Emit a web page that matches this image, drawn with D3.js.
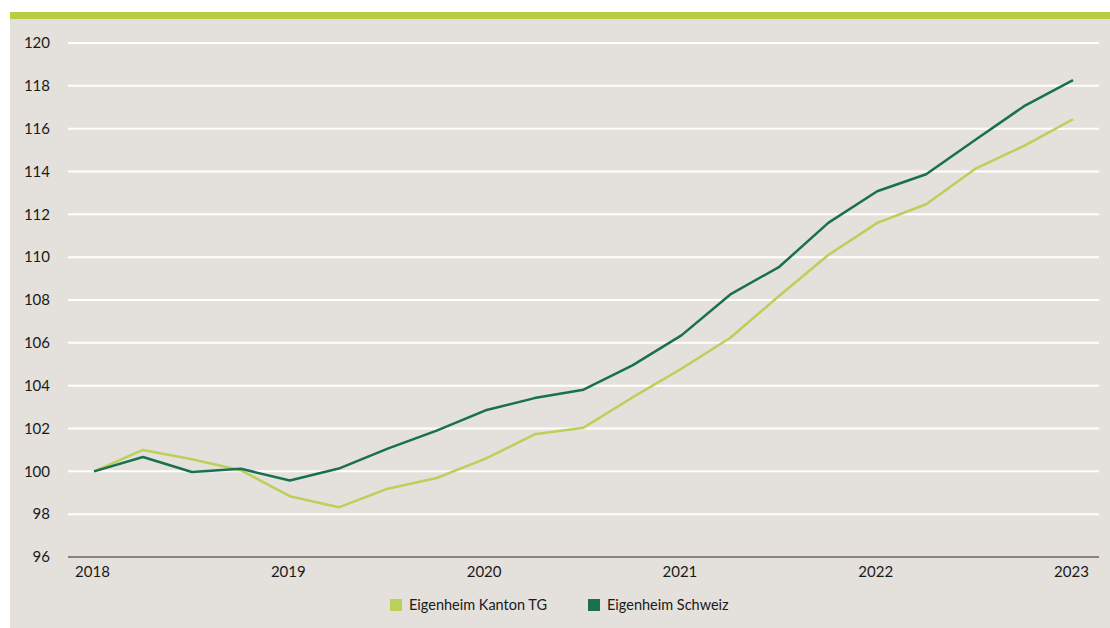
<!DOCTYPE html>
<html>
<head>
<meta charset="utf-8">
<script src="https://cdn.jsdelivr.net/npm/d3@7"></script>
<style>
  html, body { margin: 0; padding: 0; background: #fff; }
  svg { display: block; font-family: Lato, "Noto Sans", sans-serif; }
</style>
</head>
<body>
<svg id="chart" width="1110" height="628"></svg>
<script>
// quarterly index, Q1 2018 = 100
const years = ['2018', '2019', '2020', '2021', '2022', '2023']
const kantonTG = [100, 101.0, 100.56, 100.05, 98.84, 98.32, 99.19, 99.69, 100.59, 101.73, 102.04,
    103.45, 104.79, 106.24, 108.2, 110.1, 111.6, 112.47, 114.12, 115.2, 116.44]
const schweiz = [100, 100.67, 99.97, 100.12, 99.57, 100.13, 101.06, 101.9, 102.85, 103.42, 103.81,
    104.95, 106.35, 108.26, 109.55, 111.6, 113.08, 113.87, 115.47, 117.05, 118.27]
const yTicks = [96, 98, 100, 102, 104, 106, 108, 110, 112, 114, 116, 118, 120]
const seriesNames = ['Eigenheim Kanton TG', 'Eigenheim Schweiz']

const colors = ['#bad159', '#19704f']

const svg = d3.select('#chart')
const width = 1110, height = 628

// panel background + top accent bar
svg.append('rect')
    .attr('x', 10).attr('y', 12)
    .attr('width', width - 10).attr('height', height - 12)
    .attr('fill', '#e4e0dc')
svg.append('rect')
    .attr('x', 10).attr('y', 12)
    .attr('width', width - 10).attr('height', 7)
    .attr('fill', '#b8cd45')

const margin = {top: 43, left: 68, right: 11, bottom: 71}
const plotLeft = margin.left, plotRight = width - margin.right
const plotTop = margin.top, plotBottom = height - margin.bottom

const xScale = d3.scaleLinear()
    .domain([0, kantonTG.length - 1])
    .range([94, 1073])

const yScale = d3.scaleLinear()
    .domain([96, 120])
    .range([plotBottom, plotTop])

// gridlines
svg.append('g')
    .selectAll('line')
    .data(yTicks.filter(d => d > 96))
    .enter()
    .append('line')
    .attr('x1', plotLeft).attr('x2', plotRight)
    .attr('y1', d => yScale(d)).attr('y2', d => yScale(d))
    .attr('stroke', '#ffffff')
    .attr('stroke-width', 2)

// baseline
svg.append('line')
    .attr('x1', plotLeft).attr('x2', plotRight)
    .attr('y1', yScale(96)).attr('y2', yScale(96))
    .attr('stroke', '#8c8278')
    .attr('stroke-width', 2)

// y axis labels
const yAxis = svg.append('g')
    .attr('transform', 'translate(50,0)')
    .call(d3.axisLeft(yScale).tickValues(yTicks).tickSize(0).tickPadding(0))
yAxis.select('.domain').remove()
yAxis.selectAll('text')
    .attr('font-size', 15)
    .attr('fill', '#1a1a1a')
    .attr('font-family', 'Lato, "Noto Sans", sans-serif')

// x axis labels
const xAxis = svg.append('g')
    .attr('transform', `translate(-2, ${plotBottom})`)
    .call(d3.axisBottom(xScale)
        .tickValues(years.map((d, i) => i * 4))
        .tickFormat((d, i) => years[i])
        .tickSize(0).tickPadding(9))
xAxis.select('.domain').remove()
xAxis.selectAll('text')
    .attr('font-size', 15)
    .attr('fill', '#1a1a1a')
    .attr('font-family', 'Lato, "Noto Sans", sans-serif')

// lines
const line = d3.line()
    .x((d, i) => xScale(i))
    .y(d => yScale(d))

;[kantonTG, schweiz].forEach((s, k) => {
    svg.append('path')
        .datum(s)
        .attr('d', line)
        .attr('fill', 'none')
        .attr('stroke', colors[k])
        .attr('stroke-width', 2.5)
        .attr('stroke-linejoin', 'round')
})

// legend
const legendX = [390, 588]
const legend = svg.append('g')
    .selectAll('g')
    .data(seriesNames)
    .enter()
    .append('g')
    .attr('transform', (d, i) => `translate(${legendX[i]}, 599)`)
legend.append('rect')
    .attr('width', 12).attr('height', 12)
    .attr('fill', (d, i) => colors[i])
legend.append('text')
    .attr('x', 19).attr('y', 11)
    .attr('font-size', 14.5)
    .attr('fill', '#1a1a1a')
    .text(d => d)
</script>
</body>
</html>
